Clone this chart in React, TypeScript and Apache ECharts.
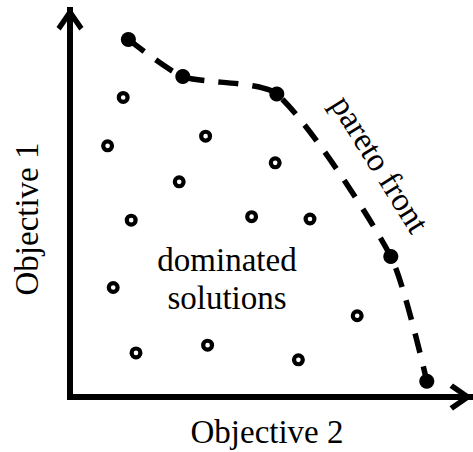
import React, { useEffect, useRef } from "react";
import * as echarts from "echarts";

// Pareto front (filled) points: [Objective 2, Objective 1]
const paretoX = [1.46, 2.82, 5.17, 8.02, 8.92];
const paretoY = [9.24, 8.28, 7.83, 3.63, 0.41];

// Dominated solutions (open circles)
const domX = [1.33, 3.39, 0.94, 5.13, 2.73, 1.53, 4.54, 6.0, 1.08, 7.18, 1.65, 3.44, 5.71];
const domY = [7.74, 6.74, 6.49, 6.05, 5.56, 4.57, 4.66, 4.6, 2.83, 2.1, 1.14, 1.34, 0.96];

const xLabel = "Objective 2";
const yLabel = "Objective 1";
const frontLabel = "pareto front";
const regionLabel = "dominated\nsolutions";

const FONT = "'Liberation Serif', 'Times New Roman', serif";
const CHEVRON = "path://M13.5 0 L27 19.5 L22.8 23 L13.5 9.5 L4.2 23 L0 19.5 Z";
// ring symbol drawn as a filled annulus
const RING =
  "path://M0 6.5 A6.5 6.5 0 1 0 13 6.5 A6.5 6.5 0 1 0 0 6.5 Z M4.2 6.5 A2.3 2.3 0 1 1 8.8 6.5 A2.3 2.3 0 1 1 4.2 6.5 Z";

export default function App() {
  const ref = useRef<HTMLDivElement>(null);
  useEffect(() => {
    if (!ref.current) return;
    const chart = echarts.init(ref.current, undefined, { renderer: "svg" });
    const axisLine = {
      show: true,
      symbol: ["none", CHEVRON],
      symbolSize: [27, 23],
      symbolOffset: [0, -9],
      lineStyle: { color: "#000", width: 6, cap: "square" },
    };
    chart.setOption({
      animation: false,
      backgroundColor: "#fff",
      grid: { left: 70, right: 3, top: 10, bottom: 55, containLabel: false },
      xAxis: {
        type: "value",
        min: 0,
        max: 10,
        axisLine,
        axisTick: { show: false },
        axisLabel: { show: false },
        splitLine: { show: false },
      },
      yAxis: {
        type: "value",
        min: 0,
        max: 10,
        axisLine,
        axisTick: { show: false },
        axisLabel: { show: false },
        splitLine: { show: false },
      },
      series: [
        {
          type: "scatter",
          data: domX.map((x, i) => [x, domY[i]]),
          symbol: RING,
          symbolSize: 13,
          itemStyle: { color: "#000", borderWidth: 0, opacity: 1 },
          z: 3,
        },
        {
          type: "line",
          data: paretoX.map((x, i) => [x, paretoY[i]]),
          smooth: 0.22,
          symbol: "circle",
          symbolSize: 15,
          showAllSymbol: true,
          lineStyle: { color: "#000", width: 5.5, type: [20, 14] },
          itemStyle: { color: "#000", opacity: 1 },
          z: 4,
        },
      ],
      graphic: [
        {
          type: "text",
          x: 267,
          y: 432,
          style: { text: xLabel, font: `33px ${FONT}`, fill: "#000", align: "center", verticalAlign: "middle" },
        },
        {
          type: "text",
          x: 27,
          y: 219,
          rotation: Math.PI / 2,
          style: { text: yLabel, font: `33px ${FONT}`, fill: "#000", align: "center", verticalAlign: "middle" },
        },
        {
          type: "text",
          x: 227,
          y: 279,
          style: {
            text: regionLabel,
            font: `33px ${FONT}`,
            lineHeight: 38,
            fill: "#000",
            align: "center",
            verticalAlign: "middle",
          },
        },
        {
          type: "text",
          x: 380,
          y: 164,
          rotation: (-58 * Math.PI) / 180,
          style: { text: frontLabel, font: `33px ${FONT}`, fill: "#000", align: "center", verticalAlign: "middle" },
        },
      ],
    });
    return () => chart.dispose();
  }, []);
  return (
    <div
      ref={ref}
      style={{ position: "fixed", left: 0, top: 0, width: 473, height: 452 }}
    />
  );
}
